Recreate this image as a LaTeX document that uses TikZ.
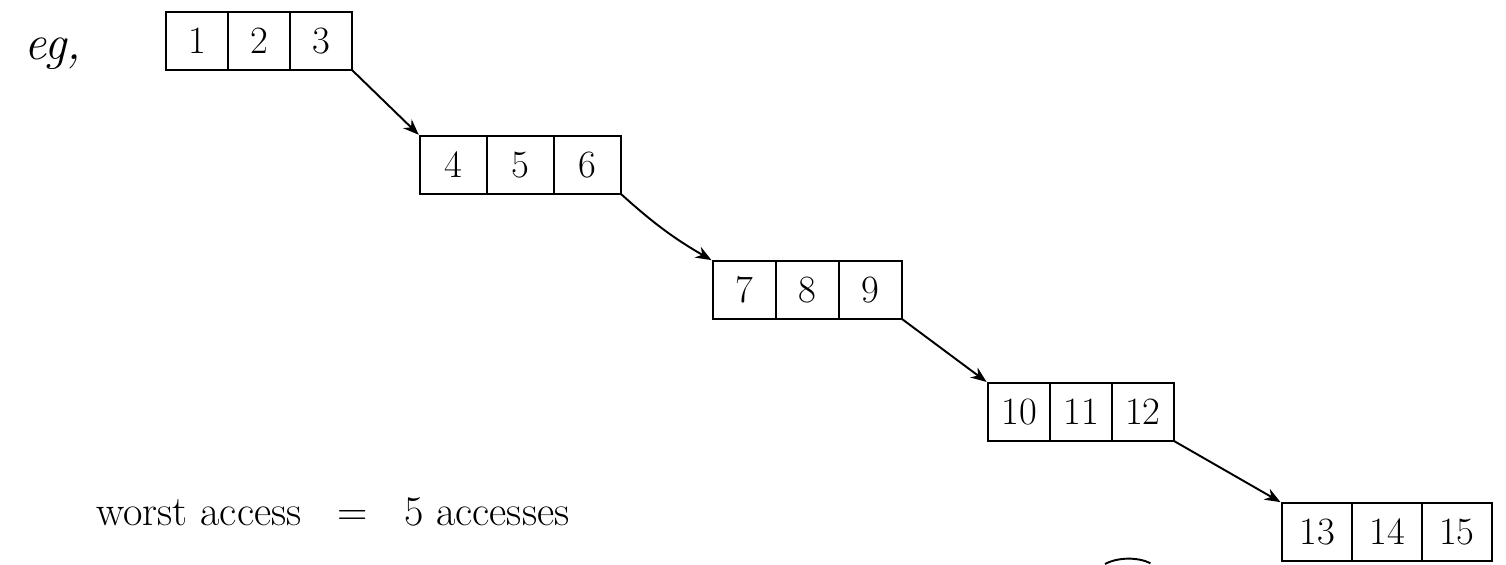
\documentclass[tikz,border=0pt]{standalone}
\usepackage{tikz}
\usetikzlibrary{positioning}
\usetikzlibrary{arrows.meta}

\begin{document}
\begin{tikzpicture}[
            x = 0.02cm, y = -0.02cm, % pixel grid, y grows downwards
            > = {Stealth[length=9pt, width=7pt]}, % arrow head style
            shorten > = 1pt, % don't touch arrow head to node
            semithick % line style
        ]

        \tikzset{
            cell/.style = {
                draw,
                line width = 1.6pt,
                outer sep = 0pt,
                inner sep = 0pt,
                minimum width = #1,
                minimum height = 1.16cm,
                font = \fontsize{22}{26}\selectfont
            },
            cell/.default = 1.28cm,
            link/.style = {->, line width = 1.1pt}
        }

        \useasboundingbox (0,0) rectangle (1506,564);

        % label
        \node[anchor=base west, font=\fontsize{28}{32}\selectfont\itshape] (eg) at (18,60) {eg,};

        % blocks of the chain
        \node[cell=1.24cm, anchor=north west] (b11) at (166,12) {1};
        \node[cell=1.24cm] (b12) [right=0pt of b11] {2};
        \node[cell=1.24cm] (b13) [right=0pt of b12] {3};

        \node[cell=1.34cm, anchor=north west] (b21) at (420,136) {4};
        \node[cell=1.34cm] (b22) [right=0pt of b21] {5};
        \node[cell=1.34cm] (b23) [right=0pt of b22] {6};

        \node[cell=1.26cm, anchor=north west] (b31) at (713,261) {7};
        \node[cell=1.26cm] (b32) [right=0pt of b31] {8};
        \node[cell=1.26cm] (b33) [right=0pt of b32] {9};

        \node[cell=1.24cm, anchor=north west] (b41) at (988,383) {10};
        \node[cell=1.24cm] (b42) [right=0pt of b41] {11};
        \node[cell=1.24cm] (b43) [right=0pt of b42] {12};

        \node[cell=1.4cm, anchor=north west] (b51) at (1282,503) {13};
        \node[cell=1.4cm] (b52) [right=0pt of b51] {14};
        \node[cell=1.4cm] (b53) [right=0pt of b52] {15};

        % pointers
        \draw[link] (b13.south east) -- (b21.north west);
        \draw[link] (b23.south east) to[bend right=6] (b31.north west);
        \draw[link] (b33.south east) -- (b41.north west);
        \draw[link] (b43.south east) -- (b51.north west);

        % cost
        \node[anchor=base west, font=\fontsize{24}{28}\selectfont] (worst) at (90,525) {worst access \;\;=\;\; 5 accesses};

        % stray stroke at the bottom edge
        \draw[line width=1.1pt] (1105,564) .. controls (1118,557) and (1138,557) .. (1152,564);

\end{tikzpicture}
\end{document}
